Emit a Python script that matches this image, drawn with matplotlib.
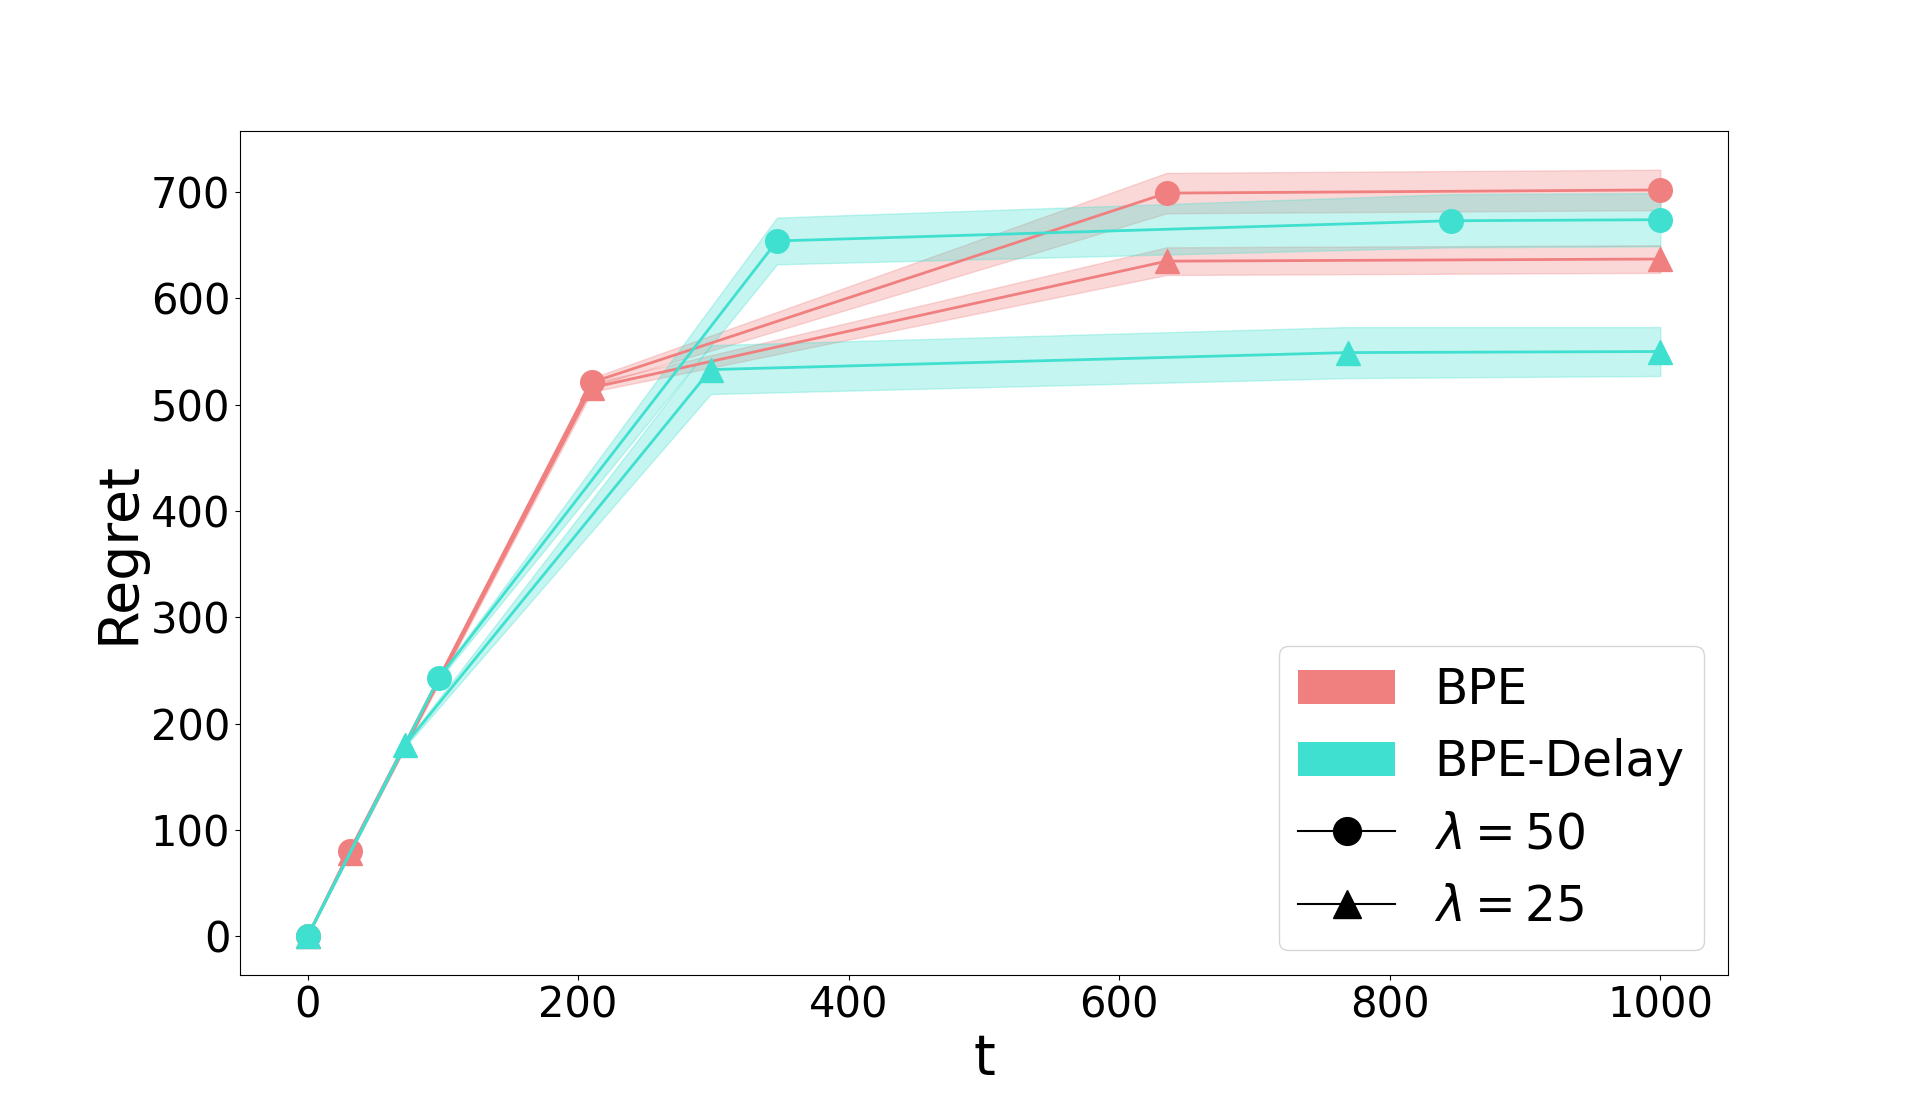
import numpy as np
import matplotlib.pyplot as plt
from matplotlib.patches import Patch
from matplotlib.lines import Line2D

# --- Data ---
RED = "lightcoral"
CYAN = "turquoise"

# BPE, lambda = 50
bpe50_t = [0, 31, 210, 635, 1000]
bpe50_mean = [0, 80, 521, 699, 702]
bpe50_err = [0, 1, 4, 19, 19]

# BPE, lambda = 25
bpe25_t = [0, 31, 210, 635, 1000]
bpe25_mean = [0, 78, 516, 635, 637]
bpe25_err = [0, 1, 4, 13, 13]

# BPE-Delay, lambda = 50
delay50_t = [0, 97, 347, 845, 1000]
delay50_mean = [0, 243, 654, 673, 674]
delay50_err = [0, 2, 22, 25, 25]

# BPE-Delay, lambda = 25
delay25_t = [0, 72, 298, 769, 1000]
delay25_mean = [0, 180, 533, 549, 550]
delay25_err = [0, 2, 23, 24, 23]

x_ticks = [0, 200, 400, 600, 800, 1000]
y_ticks = [0, 100, 200, 300, 400, 500, 600, 700]


def plot_series(ax, t, mean, err, color, marker):
    t = np.array(t, dtype=float)
    mean = np.array(mean, dtype=float)
    err = np.array(err, dtype=float)
    ax.plot(t, mean, color=color, marker=marker, markersize=17, linewidth=2)
    ax.fill_between(t, mean - err, mean + err, color=color, alpha=0.3)


fig, ax = plt.subplots(figsize=(19.2, 10.95), dpi=100)

plot_series(ax, bpe50_t, bpe50_mean, bpe50_err, RED, "o")
plot_series(ax, bpe25_t, bpe25_mean, bpe25_err, RED, "^")
plot_series(ax, delay50_t, delay50_mean, delay50_err, CYAN, "o")
plot_series(ax, delay25_t, delay25_mean, delay25_err, CYAN, "^")

ax.set_xticks(x_ticks)
ax.set_yticks(y_ticks)
ax.tick_params(labelsize=30)
ax.set_xlabel("t", fontsize=40)
ax.set_ylabel("Regret", fontsize=40)

handles = [
    Patch(facecolor=RED, label="BPE"),
    Patch(facecolor=CYAN, label="BPE-Delay"),
    Line2D([], [], color="black", marker="o", markersize=20, label=r"$\lambda = 50$"),
    Line2D([], [], color="black", marker="^", markersize=20, label=r"$\lambda = 25$"),
]
ax.legend(handles=handles, loc="lower right", fontsize=35)

plt.savefig("out.png", dpi=100)
